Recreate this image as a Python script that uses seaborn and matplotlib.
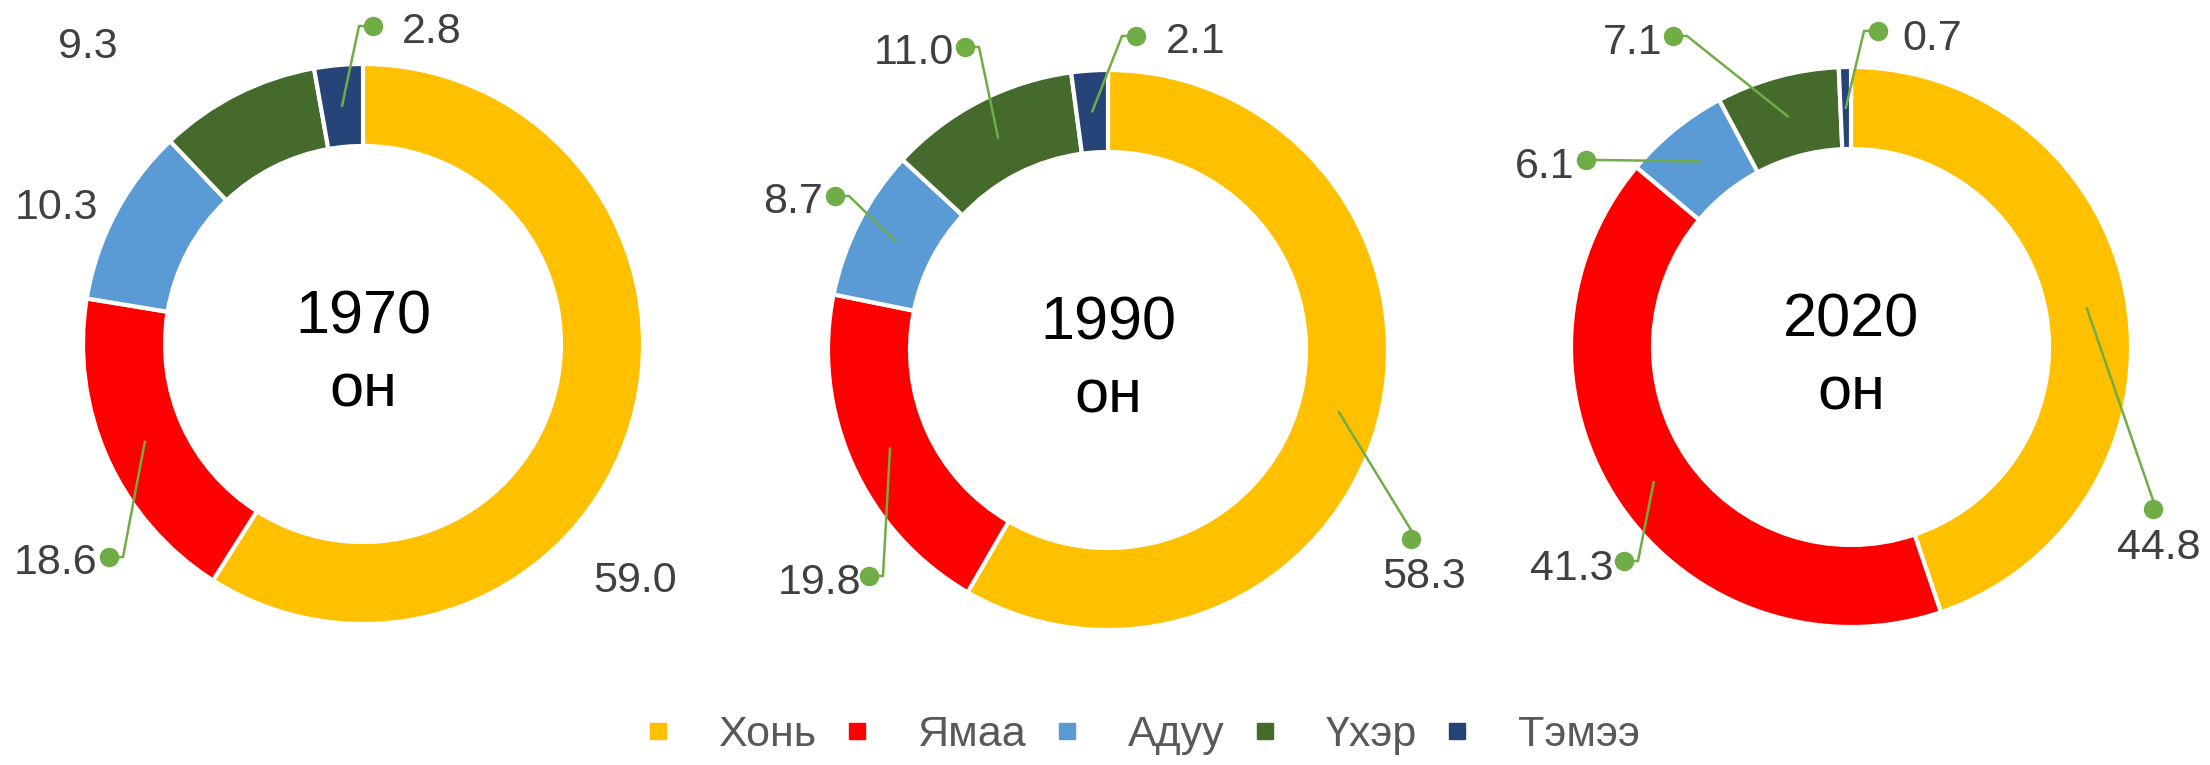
import numpy as np
import matplotlib
matplotlib.use("Agg")
import matplotlib.pyplot as plt
from matplotlib.lines import Line2D
from matplotlib.patches import Rectangle
from matplotlib import font_manager
import seaborn as sns

# Малын тоо толгойн бүтэц (%)
animals = ['Хонь', 'Ямаа', 'Адуу', 'Үхэр', 'Тэмээ']
years = ['1970', '1990', '2020']
share_1970 = [59.0, 18.6, 10.3, 9.3, 2.8]
share_1990 = [58.3, 19.8, 8.7, 11.0, 2.1]
share_2020 = [44.8, 41.3, 6.1, 7.1, 0.7]
shares = [share_1970, share_1990, share_2020]

colors = sns.color_palette(['#FFC000', '#FF0000', '#5B9BD5', '#446A2C', '#264478'])
leader_color = '#70AD47'

# байрлал (пикселээр, дээрээс доош)
W, H = 2210, 765
R_OUT, R_IN = 280, 198
centers = [(363, 344), (1108, 350), (1851, 347)]
panel_x = [(0, 740), (745, 1466), (1475, W)]
# текстийн төв, цэг (x, y, чиглэл) эсвэл None
label_pos = [
    [(635, 577, None), (56, 559, (109, 557, 'h')), (56, 204, None),
     (88, 43, None), (432, 28, (373, 26, 'h'))],
    [(1424, 573, (1411, 539, 'v')), (820, 579, (869, 576, 'h')), (793, 198, (835, 196, 'h')),
     (914, 49, (965, 47, 'h')), (1196, 38, (1136, 36, 'h'))],
    [(2159, 544, (2153, 509, 'v')), (1572, 565, (1624, 561, 'h')), (1545, 163, (1586, 160, 'h')),
     (1633, 39, (1673, 36, 'h')), (1932, 35, (1878, 31, 'h'))],
]

sns.set_theme(style='white')
plt.rcParams['font.family'] = ['Liberation Sans', 'DejaVu Sans']

# легенд нарийн үсгээр (байхгүй бол энгийн)
installed = {f.name for f in font_manager.fontManager.ttflist}
narrow = [f for f in ['Liberation Sans Narrow', 'Arial Narrow'] if f in installed]
legend_family = narrow + ['Liberation Sans', 'DejaVu Sans']

fig = plt.figure(figsize=(W / 100, H / 100), dpi=100)
ax = fig.add_axes([0, 0, 1, 1])

for k, vals in enumerate(shares):
    cx, cy = centers[k]
    ax.pie(vals, colors=colors, startangle=90, counterclock=False,
           radius=R_OUT, center=(cx, H - cy),
           wedgeprops=dict(width=R_OUT - R_IN, edgecolor='white', linewidth=3))

    x0, x1 = panel_x[k]
    clip = Rectangle((x0, 0), x1 - x0, H, transform=ax.transData)

    # шошго ба заагч шугам
    cum = np.cumsum([0] + vals) / np.sum(vals)
    for i, v in enumerate(vals):
        mid = 90 - 360 * (cum[i] + cum[i + 1]) / 2
        rm = (R_OUT + R_IN) / 2
        axp = cx + rm * np.cos(np.radians(mid))
        ayp = (H - cy) + rm * np.sin(np.radians(mid))
        tx, ty, dot = label_pos[k][i]
        t = ax.text(tx, H - ty - 15, f'{v:.1f}', ha='center', va='baseline',
                    fontsize=31, color='#404040')
        t.set_clip_path(clip)
        if dot is not None:
            dx, dy, mode = dot
            dy = H - dy
            if mode == 'h':
                ex, ey = dx + 14 * np.sign(axp - dx), dy
            else:
                ex, ey = dx, dy + 9
            ax.plot([axp, ex, dx], [ayp, ey, dy], color=leader_color, lw=1.8,
                    solid_joinstyle='miter')
            ax.plot(dx, dy, 'o', color=leader_color, markersize=13)

    ax.text(cx, H - cy + 11, years[k], ha='center', va='baseline',
            fontsize=44, color='black')
    ax.text(cx, H - cy - 62, 'он', ha='center', va='baseline',
            fontsize=44, color='black')

ax.set_aspect('auto')
ax.set_xlim(0, W)
ax.set_ylim(0, H)
ax.axis('off')

handles = [Line2D([], [], marker='s', ls='', color=c, markersize=12) for c in colors]
leg_fs = 31 if not narrow else 33
fig.legend(handles, animals, loc='center left', bbox_to_anchor=(645 / W, 1 - 735 / H),
           ncol=5, frameon=False, prop={'family': legend_family, 'size': leg_fs},
           labelcolor='#595959', borderpad=0, borderaxespad=0,
           handlelength=0.6, handletextpad=1.1, columnspacing=0.65)

fig.savefig('out.png', dpi=100, facecolor='white')
